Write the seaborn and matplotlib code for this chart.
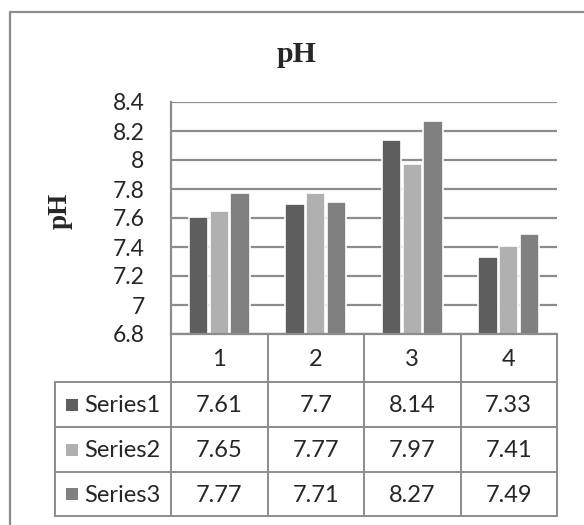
import numpy as np
import pandas as pd
import matplotlib
matplotlib.use("Agg")
import matplotlib.pyplot as plt
import seaborn as sns


categories = ["1", "2", "3", "4"]
series_names = ["Series1", "Series2", "Series3"]
series1 = [7.61, 7.7, 8.14, 7.33]
series2 = [7.65, 7.77, 7.97, 7.41]
series3 = [7.77, 7.71, 8.27, 7.49]
y_ticks = [6.8, 7.0, 7.2, 7.4, 7.6, 7.8, 8.0, 8.2, 8.4]

colors = ["#5e5e5e", "#b0b0b0", "#808080"]
line_gray = "#8c8c8c"

# ============================================================

sns.set_style("white")
plt.rcParams["font.family"] = ["Lato", "DejaVu Sans"]

W, H = 584, 525
fig = plt.figure(figsize=(W / 100, H / 100), dpi=100)

# plot area in pixels
px_left, px_right, px_top, px_bottom = 171, 557, 102, 334
ax = fig.add_axes([px_left / W, 1 - px_bottom / H,
                   (px_right - px_left) / W, (px_bottom - px_top) / H])

all_values = [series1, series2, series3]
df = pd.DataFrame({
    "category": np.repeat([categories], 3, axis=0).ravel(),
    "series": np.repeat(series_names, len(categories)),
    "value": np.ravel(all_values),
})

sns.barplot(data=df, x="category", y="value", hue="series", order=categories,
            hue_order=series_names, palette=colors, width=0.64, gap=0.06,
            edgecolor="white", linewidth=1.2, saturation=1, legend=False, ax=ax)

ax.set_ylim(y_ticks[0], y_ticks[-1])
ax.set_yticks(y_ticks)
ax.set_yticklabels([f"{t:g}" for t in y_ticks], fontsize=16.5)
ax.set_xticks(range(len(categories)))
ax.set_xticklabels([])
ax.tick_params(axis="both", length=0)
ax.tick_params(axis="y", pad=19)
ax.set_xlabel("")
ax.set_ylabel("")
ax.yaxis.grid(True, color=line_gray, lw=1.6)
ax.set_axisbelow(True)
for side in ["top", "right"]:
    ax.spines[side].set_visible(False)
for side in ["left", "bottom"]:
    ax.spines[side].set_color(line_gray)
    ax.spines[side].set_linewidth(1.6)

# overlay axes in pixel units for the data table, title and frame
ov = fig.add_axes([0, 0, 1, 1])
ov.set_xlim(0, W)
ov.set_ylim(H, 0)
ov.axis("off")
ov.patch.set_alpha(0)

# outer chart frame (only top and left are inside the picture)
ov.plot([10, 10], [12, H], color=line_gray, lw=1.6)
ov.plot([10, W], [12, 12], color=line_gray, lw=1.6)

ov.text(297, 55, "pH", ha="center", va="center", fontsize=21.5,
        fontweight="bold", family="Liberation Serif")
ov.text(60, 211, "pH", ha="center", va="center", fontsize=19.5, rotation=90,
        fontweight="bold", family="Liberation Serif")

tab_left = 55
col_edges = np.linspace(px_left, px_right, len(categories) + 1)
row_edges = [px_bottom, 382, 427, 472, 516]

tlw = 1.4
# header row verticals and body verticals
for x in col_edges[1:]:
    ov.plot([x, x], [row_edges[0], row_edges[-1]], color=line_gray, lw=tlw)
ov.plot([px_left, px_left], [row_edges[0], row_edges[-1]], color=line_gray, lw=tlw)
ov.plot([tab_left, tab_left], [row_edges[1], row_edges[-1]], color=line_gray, lw=tlw)
for y in row_edges[1:]:
    ov.plot([tab_left, px_right], [y, y], color=line_gray, lw=tlw)

# header labels
for i, cat in enumerate(categories):
    xc = (col_edges[i] + col_edges[i + 1]) / 2
    ov.text(xc, (row_edges[0] + row_edges[1]) / 2 + 1, cat, ha="center",
            va="center", fontsize=17)

# body rows with legend keys
for r, (name, vals) in enumerate(zip(series_names, all_values)):
    yc = (row_edges[r + 1] + row_edges[r + 2]) / 2
    ov.add_patch(plt.Rectangle((66, yc - 6), 12, 12, color=colors[r], lw=0))
    ov.text(84, yc + 1, name, ha="left", va="center", fontsize=17)
    for i, v in enumerate(vals):
        xc = (col_edges[i] + col_edges[i + 1]) / 2
        ov.text(xc, yc + 1, f"{v:g}", ha="center", va="center", fontsize=17)

fig.savefig("out.png", dpi=100)
